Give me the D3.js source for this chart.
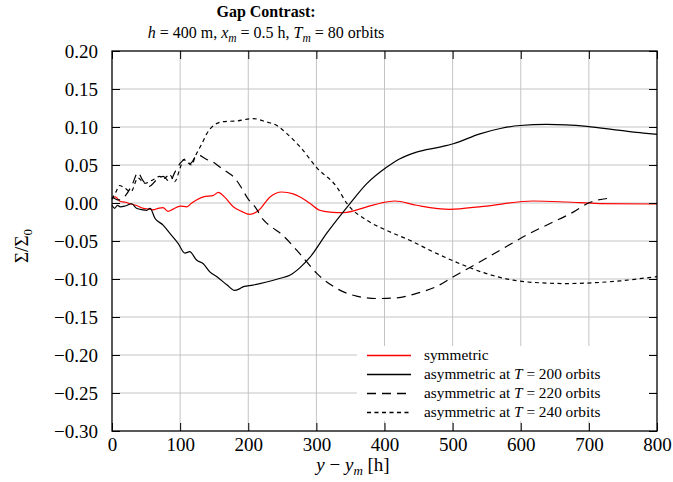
<!DOCTYPE html>
<html>
<head>
<meta charset="utf-8">
<script src="https://cdn.jsdelivr.net/npm/d3@7"></script>
<style>
  body { margin: 0; background: #fff; }
  svg text { font-family: "Liberation Serif", "DejaVu Serif", serif; }
</style>
</head>
<body>
<div id="chart"></div>
<script>
// data: [x, value]
var symmetric = [[0,0.006],[5,0.008],[12,0.002],[20,0.001],[26,-0.001],[35,-0.003],[46,-0.007],[55,-0.008],[60,-0.009],[68,-0.007],[75,-0.006],[82,-0.011],[90,-0.008],[100,-0.004],[110,-0.005],[117,0.000],[124,0.004],[134,0.008],[149,0.010],[156,0.014],[165,0.008],[178,-0.005],[190,-0.011],[202,-0.015],[215,-0.010],[232,0.008],[249,0.0145],[266,0.012],[276,0.008],[290,0.000],[305,-0.0096],[320,-0.012],[340,-0.0127],[374,-0.005],[395,0.000],[415,0.0026],[447,-0.003],[496,-0.0083],[545,-0.0044],[618,0.0026],[667,0.0013],[716,-0.0008],[800,-0.0013]];

var asym200 = [[0,-0.003],[4,-0.007],[8,-0.003],[12,-0.005],[19,-0.004],[29,-0.001],[36,-0.007],[45,-0.009],[51,-0.0096],[56,-0.007],[63,-0.02],[75,-0.029],[85,-0.04],[97,-0.053],[107,-0.066],[114,-0.064],[124,-0.075],[134,-0.08],[144,-0.091],[154,-0.097],[169,-0.108],[180,-0.115],[187,-0.113],[193,-0.110],[207,-0.108],[227,-0.104],[247,-0.099],[261,-0.095],[276,-0.085],[291,-0.071],[315,-0.040],[349,-0.001],[374,0.0255],[403,0.047],[422,0.058],[447,0.067],[481,0.0736],[501,0.078],[540,0.091],[570,0.098],[599,0.102],[638,0.1034],[697,0.1008],[746,0.0955],[780,0.092],[800,0.0903]];

var asym220 = [[0,0.008],[10,0.004],[20,0.010],[30,0.025],[38,0.040],[45,0.030],[55,0.022],[65,0.030],[75,0.035],[85,0.028],[92,0.040],[100,0.052],[108,0.058],[115,0.052],[122,0.060],[128,0.063],[134,0.060],[140,0.057],[148,0.054],[160,0.046],[170,0.040],[180,0.033],[190,0.020],[200,0.005],[210,-0.005],[222,-0.022],[235,-0.032],[250,-0.042],[269,-0.060],[276,-0.067],[301,-0.093],[330,-0.1125],[359,-0.1226],[389,-0.1257],[418,-0.1248],[447,-0.119],[476,-0.110],[501,-0.097],[535,-0.080],[570,-0.062],[609,-0.042],[643,-0.027],[677,-0.012],[702,0.001],[734,0.0066]];

var asym240 = [[0,0.005],[6,0.015],[11,0.023],[18,0.020],[28,0.015],[38,0.033],[48,0.026],[59,0.030],[70,0.035],[75,0.032],[85,0.037],[92,0.028],[100,0.046],[105,0.057],[117,0.050],[122,0.061],[132,0.078],[139,0.091],[149,0.102],[163,0.107],[183,0.108],[207,0.111],[227,0.1066],[242,0.102],[257,0.091],[276,0.074],[301,0.046],[330,0.021],[345,-0.0008],[374,-0.0227],[403,-0.036],[437,-0.049],[471,-0.064],[511,-0.080],[550,-0.093],[589,-0.1016],[628,-0.105],[668,-0.106],[706,-0.105],[746,-0.1025],[785,-0.0985],[800,-0.097]];

var seriesNames = ["symmetric", "asymmetric at T = 200 orbits", "asymmetric at T = 220 orbits", "asymmetric at T = 240 orbits"];
var xTicks = [0, 100, 200, 300, 400, 500, 600, 700, 800];
var yTicks = [0.20, 0.15, 0.10, 0.05, 0.00, -0.05, -0.10, -0.15, -0.20, -0.25, -0.30];

var series = [
  {name: seriesNames[0], data: symmetric, color: "#ff0000", dash: null},
  {name: seriesNames[1], data: asym200, color: "#000", dash: null},
  {name: seriesNames[2], data: asym220, color: "#000", dash: "9,6"},
  {name: seriesNames[3], data: asym240, color: "#000", dash: "4,3.5"}
];

var margin = {top: 51, right: 16, bottom: 51, left: 112},
    width = 673 - margin.left - margin.right,
    height = 482 - margin.top - margin.bottom;

var svg = d3.select("#chart").append("svg")
    .attr("width", 673)
    .attr("height", 482);

var g = svg.append("g")
    .attr("transform", "translate(" + margin.left + "," + margin.top + ")");

var x = d3.scaleLinear().domain([0, 800]).range([0, width]);
var y = d3.scaleLinear().domain([-0.30, 0.20]).range([height, 0]);

// grid
g.append("g").selectAll("line").data(xTicks.slice(1, -1)).enter().append("line")
    .attr("x1", d => x(d)).attr("x2", d => x(d))
    .attr("y1", 0).attr("y2", height)
    .attr("stroke", "#c4c4c4").attr("stroke-width", 1);
g.append("g").selectAll("line").data(yTicks.slice(1, -1)).enter().append("line")
    .attr("y1", d => y(d)).attr("y2", d => y(d))
    .attr("x1", 0).attr("x2", width)
    .attr("stroke", "#c4c4c4").attr("stroke-width", 1);

// lines
var line = d3.line().x(d => x(d[0])).y(d => y(d[1])).curve(d3.curveMonotoneX);
series.forEach(function(s) {
  g.append("path")
    .datum(s.data)
    .attr("d", line)
    .attr("fill", "none")
    .attr("stroke", s.color)
    .attr("stroke-width", 1.2)
    .attr("stroke-dasharray", s.dash);
});

// legend
var leg = g.append("g").attr("transform", "translate(" + (357 - margin.left) + "," + (346 - margin.top) + ")");
leg.append("rect").attr("width", 292).attr("height", 75).attr("fill", "#fff");
series.forEach(function(s, i) {
  var yy = 9.5 + i * 19;
  leg.append("line")
    .attr("x1", 10).attr("x2", 54).attr("y1", yy).attr("y2", yy)
    .attr("stroke", s.color).attr("stroke-width", 1.3)
    .attr("stroke-dasharray", s.dash);
  var t = leg.append("text").attr("x", 67).attr("y", yy + 4.5).attr("font-size", "15.3px");
  if (i == 0) {
    t.text(s.name);
  } else {
    var m = s.name.split("T");
    t.append("tspan").text(m[0]);
    t.append("tspan").attr("font-style", "italic").text("T");
    t.append("tspan").text(m[1]);
  }
});

// axes with inward ticks
var fmt = function(d) { return d3.format(".2f")(d).replace("-", "\u2212"); };
var ax = g.append("g").attr("transform", "translate(0," + height + ")")
    .call(d3.axisBottom(x).tickValues(xTicks).tickSizeInner(-8).tickSizeOuter(0).tickPadding(7));
var axTop = g.append("g")
    .call(d3.axisTop(x).tickValues(xTicks).tickSizeInner(-8).tickSizeOuter(0).tickFormat(""));
var ay = g.append("g")
    .call(d3.axisLeft(y).tickValues(yTicks).tickSizeInner(-8).tickSizeOuter(0).tickPadding(14).tickFormat(fmt));
var ayR = g.append("g").attr("transform", "translate(" + width + ",0)")
    .call(d3.axisRight(y).tickValues(yTicks).tickSizeInner(-8).tickSizeOuter(0).tickFormat(""));

[ax, axTop, ay, ayR].forEach(function(a) {
  a.select(".domain").remove();
  a.selectAll("line").attr("stroke", "#000").attr("stroke-width", 1);
  a.selectAll("text").attr("font-size", "19px").attr("fill", "#000");
});

g.append("rect").attr("width", width).attr("height", height)
    .attr("fill", "none").attr("stroke", "#000").attr("stroke-width", 1.3);

// titles
svg.append("text").attr("x", 266).attr("y", 17).attr("text-anchor", "middle")
    .attr("font-size", "16px").attr("font-weight", "bold").text("Gap Contrast:");
var sub = svg.append("text").attr("x", 266).attr("y", 38).attr("text-anchor", "middle").attr("font-size", "16px");
sub.append("tspan").attr("font-style", "italic").text("h");
sub.append("tspan").text(" = 400 m, ");
sub.append("tspan").attr("font-style", "italic").text("x");
sub.append("tspan").attr("font-style", "italic").attr("font-size", "11.5px").attr("dy", 4).text("m");
sub.append("tspan").attr("dy", -4).text(" = 0.5 h, ");
sub.append("tspan").attr("font-style", "italic").text("T");
sub.append("tspan").attr("font-style", "italic").attr("font-size", "11.5px").attr("dy", 4).text("m");
sub.append("tspan").attr("dy", -4).text(" = 80 orbits");

var xl = svg.append("text").attr("x", 353).attr("y", 471).attr("text-anchor", "middle").attr("font-size", "19px");
xl.append("tspan").attr("font-style", "italic").text("y");
xl.append("tspan").text(" \u2212 ");
xl.append("tspan").attr("font-style", "italic").text("y");
xl.append("tspan").attr("font-style", "italic").attr("font-size", "13px").attr("dy", 4).text("m");
xl.append("tspan").attr("dy", -4).text(" [h]");

var yl = svg.append("text").attr("transform", "translate(28,246) rotate(-90)")
    .attr("text-anchor", "middle").attr("font-size", "19px");
yl.append("tspan").text("\u03a3/\u03a3");
yl.append("tspan").attr("font-size", "13px").attr("dy", 4).text("0");
</script>
</body>
</html>
